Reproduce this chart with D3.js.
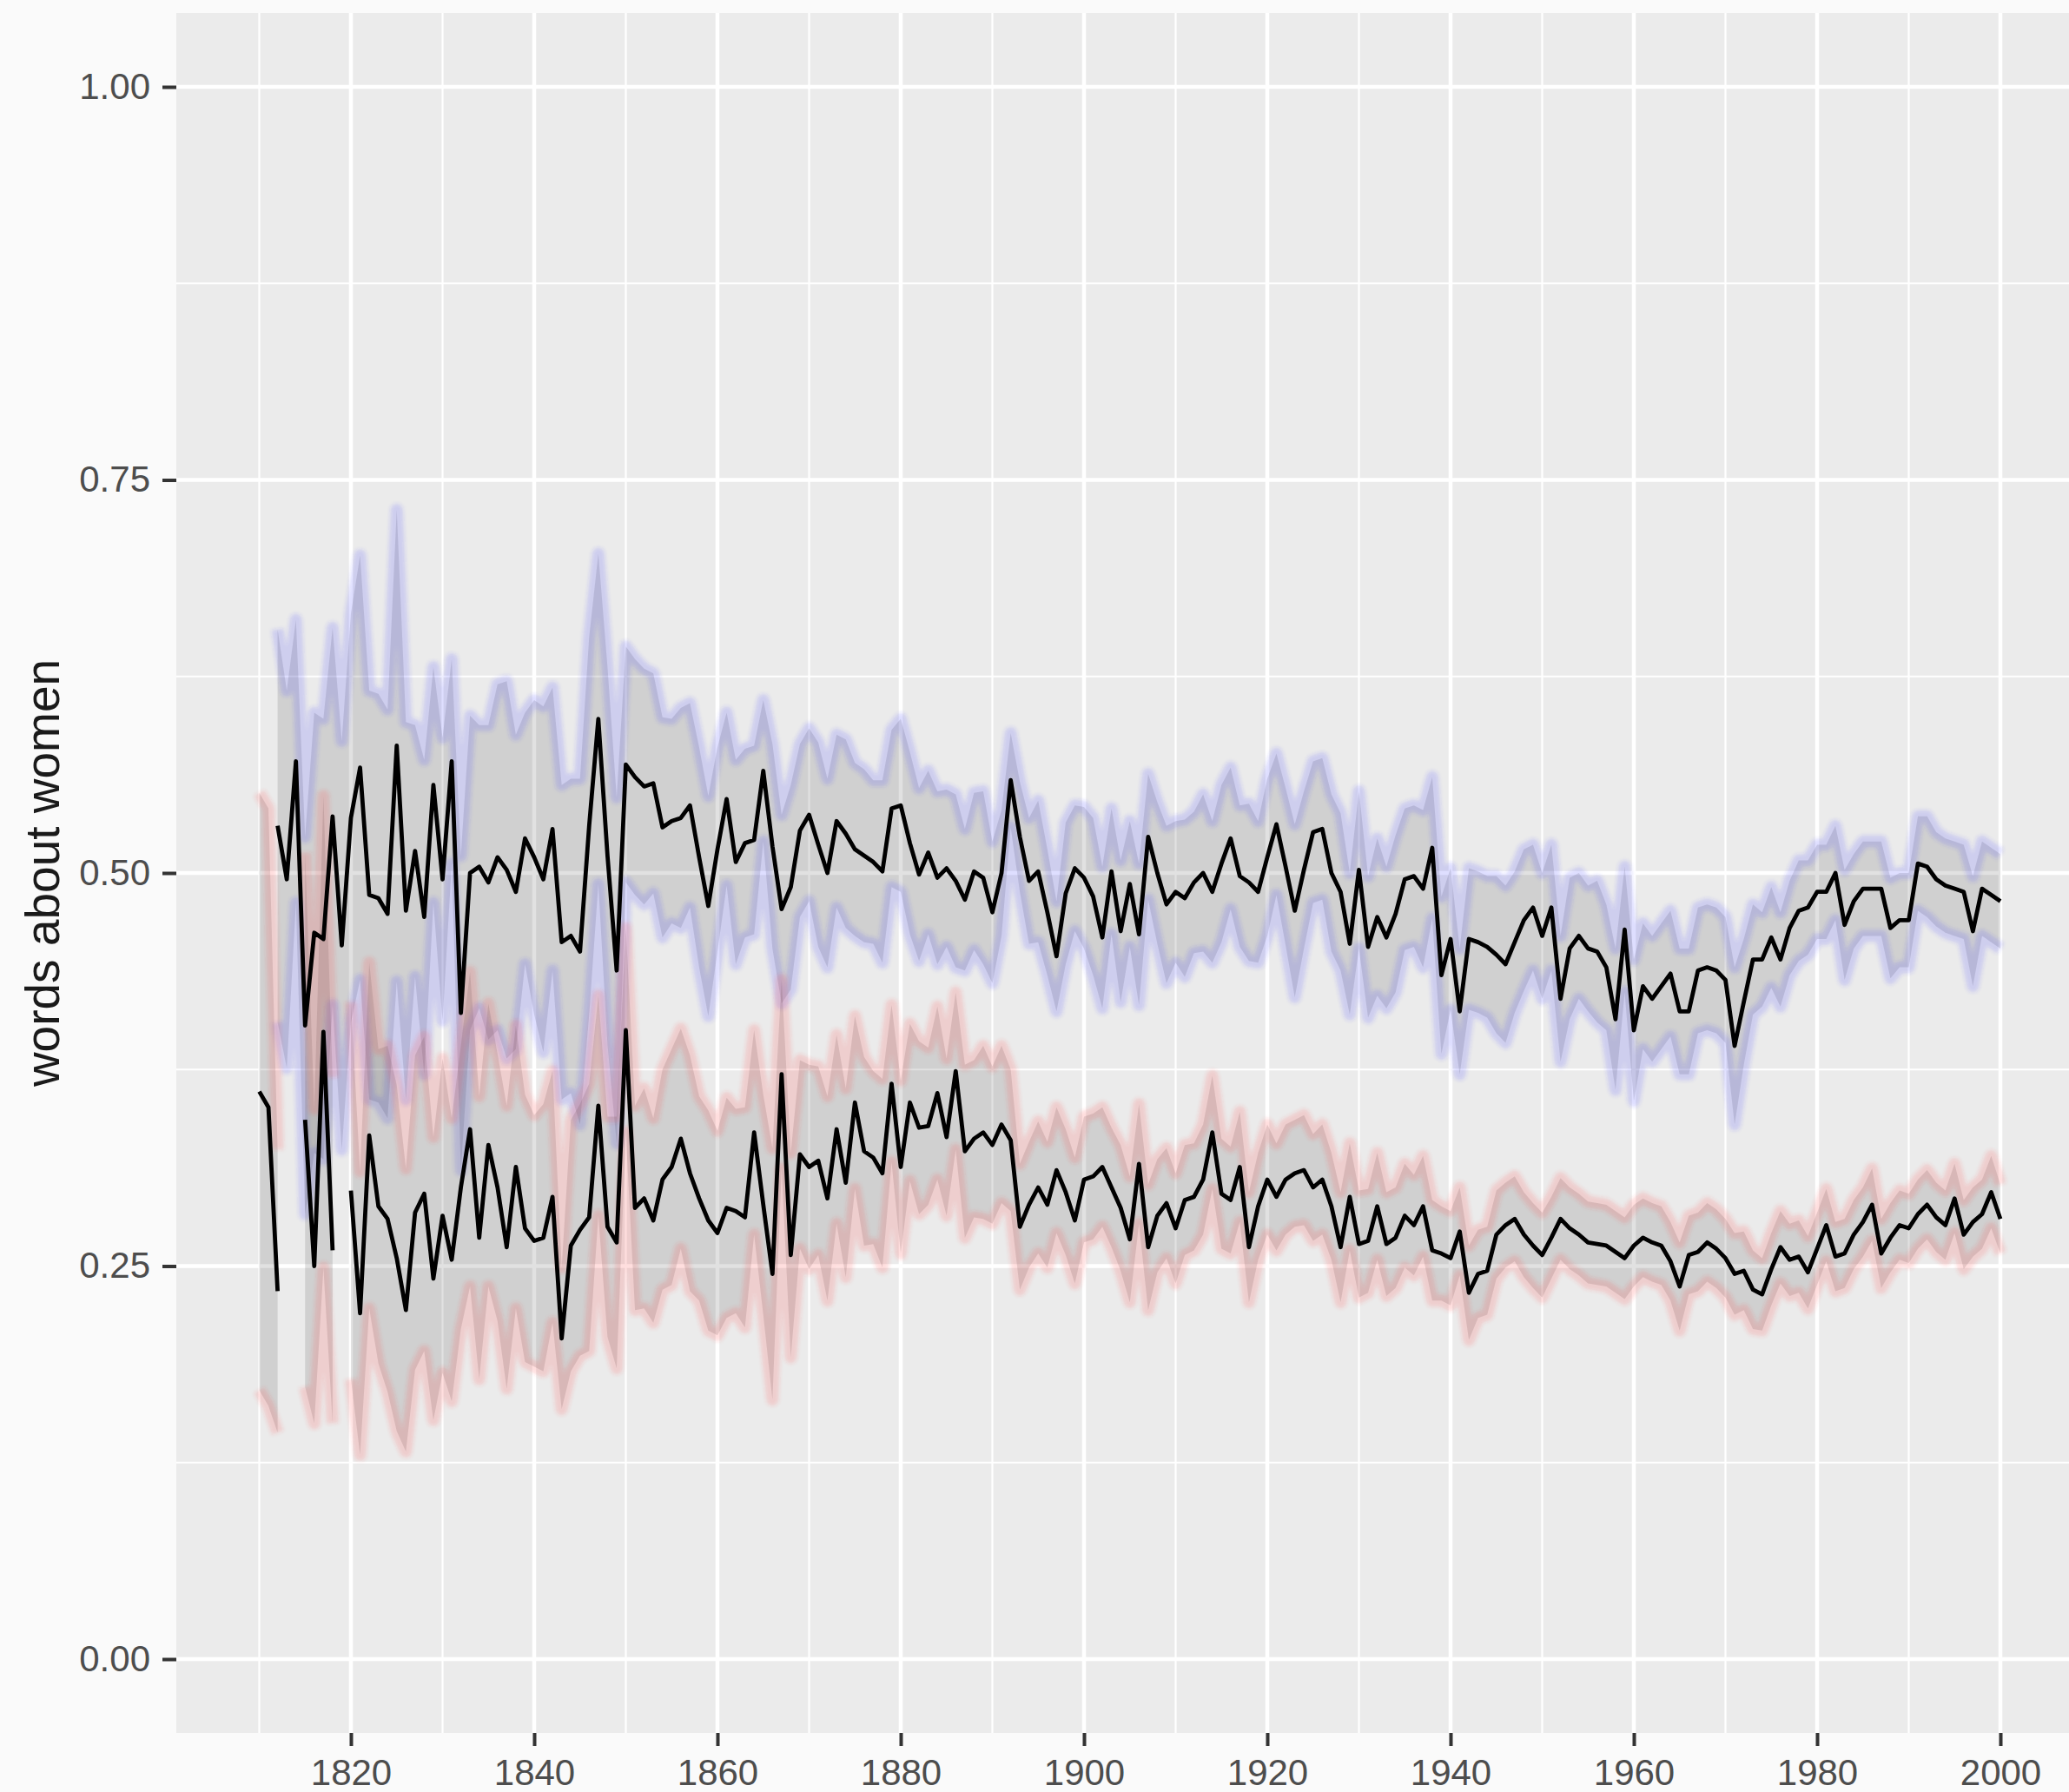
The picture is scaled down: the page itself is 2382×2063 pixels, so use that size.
<!DOCTYPE html>
<html>
<head>
<meta charset="utf-8">
<script src="https://cdn.jsdelivr.net/npm/d3@7"></script>
<style>
    body { margin: 0; background: #fafafa; }
    svg { display: block; font-family: "Liberation Sans", Arial, sans-serif; }
</style>
</head>
<body>
<svg></svg>
<script>
const
    firstYear = 1810,
    lastYear = 2000,
    years = d3.range(firstYear, lastYear + 1)

const xTicks = [1820, 1840, 1860, 1880, 1900, 1920, 1940, 1960, 1980, 2000]
const xMinor = [1810, 1830, 1850, 1870, 1890, 1910, 1930, 1950, 1970, 1990]
const yTicks = [0, 0.25, 0.5, 0.75, 1]
const yMinor = [0.125, 0.375, 0.625, 0.875]

const yTitle = "words about women"

// one row per decade, 1810 to 1999, then 2000
const upperMean = [
    null, null, 0.530, 0.496, 0.571, 0.403, 0.462, 0.458, 0.536, 0.454,
    0.535, 0.567, 0.486, 0.484, 0.474, 0.581, 0.476, 0.514, 0.472, 0.556,
    0.496, 0.571, 0.411, 0.500, 0.504, 0.494, 0.510, 0.502, 0.488, 0.522,
    0.510, 0.496, 0.528, 0.456, 0.460, 0.450, 0.530, 0.598, 0.511, 0.438,
    0.569, 0.561, 0.555, 0.557, 0.529, 0.533, 0.535, 0.543, 0.510, 0.479,
    0.515, 0.547, 0.507, 0.519, 0.521, 0.565, 0.517, 0.477, 0.491, 0.527,
    0.537, 0.518, 0.500, 0.533, 0.525, 0.515, 0.511, 0.507, 0.501, 0.541,
    0.543, 0.519, 0.499, 0.513, 0.497, 0.503, 0.495, 0.483, 0.501, 0.497,
    0.475, 0.500, 0.559, 0.523, 0.495, 0.501, 0.475, 0.447, 0.487, 0.503,
    0.497, 0.485, 0.459, 0.501, 0.463, 0.493, 0.461, 0.523, 0.500, 0.480,
    0.488, 0.484, 0.494, 0.500, 0.488, 0.506, 0.522, 0.498, 0.494, 0.488,
    0.510, 0.531, 0.504, 0.476, 0.502, 0.526, 0.528, 0.500, 0.488, 0.455,
    0.502, 0.453, 0.472, 0.459, 0.474, 0.496, 0.498, 0.490, 0.516, 0.435,
    0.458, 0.412, 0.458, 0.456, 0.453, 0.448, 0.442, 0.456, 0.470, 0.478,
    0.460, 0.478, 0.420, 0.452, 0.460, 0.452, 0.450, 0.440, 0.407, 0.464,
    0.400, 0.428, 0.420, 0.428, 0.436, 0.412, 0.412, 0.438, 0.440, 0.438,
    0.432, 0.390, 0.418, 0.445, 0.445, 0.459, 0.445, 0.465, 0.476, 0.478,
    0.488, 0.488, 0.500, 0.467, 0.482, 0.490, 0.490, 0.490, 0.465, 0.470,
    0.470, 0.506, 0.504, 0.496, 0.492, 0.490, 0.488, 0.463, 0.490, 0.486,
    0.482
]

const upperBand = [
    null, null, 0.125, 0.12, 0.09, 0.12, 0.14, 0.14, 0.12, 0.13,
    0.13, 0.135, 0.13, 0.13, 0.13, 0.15, 0.12, 0.08, 0.10, 0.075,
    0.09, 0.065, 0.10, 0.10, 0.09, 0.10, 0.11, 0.12, 0.10, 0.08,
    0.10, 0.11, 0.09, 0.10, 0.10, 0.11, 0.12, 0.105, 0.12, 0.11,
    0.075, 0.075, 0.075, 0.07, 0.07, 0.065, 0.07, 0.065, 0.07, 0.07,
    0.065, 0.055, 0.065, 0.06, 0.06, 0.045, 0.065, 0.06, 0.065, 0.055,
    0.055, 0.065, 0.06, 0.055, 0.06, 0.055, 0.055, 0.052, 0.058, 0.05,
    0.055, 0.058, 0.055, 0.052, 0.055, 0.05, 0.055, 0.045, 0.05, 0.055,
    0.045, 0.04, 0.03, 0.035, 0.04, 0.045, 0.04, 0.035, 0.045, 0.04,
    0.045, 0.05, 0.045, 0.04, 0.045, 0.04, 0.045, 0.04, 0.045, 0.05,
    0.045, 0.05, 0.045, 0.05, 0.045, 0.05, 0.045, 0.045, 0.05, 0.045,
    0.05, 0.045, 0.05, 0.055, 0.05, 0.045, 0.045, 0.05, 0.05, 0.045,
    0.05, 0.045, 0.05, 0.045, 0.05, 0.045, 0.045, 0.05, 0.045, 0.05,
    0.045, 0.04, 0.045, 0.045, 0.045, 0.05, 0.05, 0.045, 0.045, 0.04,
    0.04, 0.04, 0.04, 0.045, 0.04, 0.04, 0.045, 0.04, 0.045, 0.04,
    0.045, 0.04, 0.04, 0.04, 0.04, 0.04, 0.04, 0.04, 0.04, 0.04,
    0.04, 0.05, 0.04, 0.035, 0.03, 0.032, 0.03, 0.03, 0.032, 0.03,
    0.03, 0.03, 0.03, 0.035, 0.03, 0.03, 0.03, 0.03, 0.032, 0.03,
    0.03, 0.03, 0.032, 0.03, 0.03, 0.03, 0.03, 0.035, 0.03, 0.03,
    0.03
]

const lowerMean = [
    0.361, 0.351, 0.234, null, null, 0.343, 0.250, 0.399, 0.260, null,
    0.298, 0.220, 0.333, 0.288, 0.280, 0.255, 0.222, 0.284, 0.296, 0.242,
    0.282, 0.254, 0.300, 0.337, 0.268, 0.327, 0.300, 0.262, 0.313, 0.274,
    0.266, 0.268, 0.294, 0.204, 0.263, 0.273, 0.281, 0.352, 0.275, 0.265,
    0.400, 0.287, 0.293, 0.279, 0.305, 0.313, 0.331, 0.309, 0.293, 0.279,
    0.271, 0.287, 0.285, 0.281, 0.335, 0.289, 0.245, 0.372, 0.257, 0.321,
    0.313, 0.317, 0.293, 0.337, 0.303, 0.354, 0.323, 0.319, 0.309, 0.366,
    0.313, 0.354, 0.338, 0.339, 0.360, 0.332, 0.374, 0.323, 0.331, 0.335,
    0.327, 0.340, 0.330, 0.275, 0.289, 0.300, 0.289, 0.311, 0.297, 0.279,
    0.305, 0.307, 0.313, 0.300, 0.287, 0.267, 0.315, 0.262, 0.282, 0.290,
    0.274, 0.292, 0.294, 0.305, 0.335, 0.296, 0.292, 0.313, 0.262, 0.288,
    0.305, 0.294, 0.305, 0.309, 0.311, 0.300, 0.305, 0.288, 0.262, 0.294,
    0.264, 0.266, 0.288, 0.264, 0.268, 0.282, 0.276, 0.288, 0.260, 0.258,
    0.255, 0.272, 0.233, 0.245, 0.247, 0.270, 0.276, 0.280, 0.270, 0.263,
    0.257, 0.268, 0.280, 0.274, 0.270, 0.265, 0.264, 0.263, 0.259, 0.255,
    0.263, 0.268, 0.265, 0.263, 0.253, 0.237, 0.257, 0.259, 0.265, 0.261,
    0.255, 0.245, 0.247, 0.235, 0.232, 0.248, 0.262, 0.254, 0.256, 0.246,
    0.261, 0.276, 0.256, 0.258, 0.270, 0.278, 0.289, 0.258, 0.268, 0.276,
    0.274, 0.283, 0.289, 0.281, 0.276, 0.293, 0.270, 0.278, 0.283, 0.297,
    0.280
]

const lowerBand = [
    0.19, 0.19, 0.09, null, null, 0.17, 0.10, 0.15, 0.11, null,
    0.12, 0.09, 0.11, 0.10, 0.11, 0.11, 0.09, 0.10, 0.10, 0.09,
    0.10, 0.09, 0.09, 0.10, 0.09, 0.09, 0.085, 0.09, 0.09, 0.085,
    0.08, 0.085, 0.08, 0.045, 0.08, 0.08, 0.085, 0.07, 0.07, 0.08,
    0.065, 0.065, 0.07, 0.065, 0.07, 0.075, 0.07, 0.075, 0.065, 0.07,
    0.065, 0.07, 0.065, 0.07, 0.065, 0.07, 0.08, 0.06, 0.065, 0.06,
    0.065, 0.06, 0.065, 0.06, 0.06, 0.055, 0.06, 0.055, 0.06, 0.05,
    0.055, 0.05, 0.055, 0.05, 0.055, 0.05, 0.05, 0.055, 0.05, 0.055,
    0.05, 0.05, 0.045, 0.04, 0.04, 0.042, 0.04, 0.04, 0.04, 0.04,
    0.04, 0.04, 0.038, 0.038, 0.04, 0.04, 0.038, 0.04, 0.036, 0.035,
    0.035, 0.035, 0.034, 0.035, 0.036, 0.035, 0.034, 0.035, 0.035, 0.034,
    0.035, 0.034, 0.035, 0.034, 0.035, 0.034, 0.035, 0.034, 0.035, 0.034,
    0.034, 0.033, 0.034, 0.033, 0.032, 0.033, 0.032, 0.032, 0.032, 0.03,
    0.03, 0.028, 0.03, 0.028, 0.028, 0.028, 0.027, 0.027, 0.027, 0.027,
    0.027, 0.026, 0.026, 0.026, 0.026, 0.026, 0.026, 0.026, 0.026, 0.026,
    0.026, 0.025, 0.025, 0.025, 0.025, 0.028, 0.025, 0.025, 0.025, 0.025,
    0.025, 0.026, 0.025, 0.025, 0.023, 0.023, 0.023, 0.023, 0.023, 0.023,
    0.023, 0.023, 0.022, 0.022, 0.022, 0.022, 0.023, 0.022, 0.022, 0.022,
    0.022, 0.022, 0.022, 0.022, 0.022, 0.022, 0.022, 0.022, 0.022, 0.023,
    0.022
]

const
    width = 2382,
    height = 2063,
    panel = { left: 203, top: 15, bottom: 1995 }

const x = d3.scaleLinear()
    .domain([1820, 2000])
    .range([404, 2303])

const y = d3.scaleLinear()
    .domain([0, 1])
    .range([1910, 100])

const svg = d3.select("svg")
    .attr("width", width)
    .attr("height", height)
    .attr("viewBox", [0, 0, width, height])

// soft edge for the ribbon outlines
svg.append("defs")
    .append("filter")
    .attr("id", "soft")
    .attr("x", "-5%").attr("y", "-20%")
    .attr("width", "110%").attr("height", "140%")
    .append("feGaussianBlur")
    .attr("stdDeviation", 2)

svg.append("rect")
    .attr("x", panel.left)
    .attr("y", panel.top)
    .attr("width", width - panel.left)
    .attr("height", panel.bottom - panel.top)
    .attr("fill", "#ebebeb")

const grid = svg.append("g").attr("stroke", "#fff")

grid.selectAll(".ymin").data(yMinor).join("line")
    .attr("x1", panel.left).attr("x2", width)
    .attr("y1", d => y(d)).attr("y2", d => y(d))
    .attr("stroke-width", 2.2)

grid.selectAll(".xmin").data(xMinor).join("line")
    .attr("x1", d => x(d)).attr("x2", d => x(d))
    .attr("y1", panel.top).attr("y2", panel.bottom)
    .attr("stroke-width", 2.2)

grid.selectAll(".ymaj").data(yTicks).join("line")
    .attr("x1", panel.left).attr("x2", width)
    .attr("y1", d => y(d)).attr("y2", d => y(d))
    .attr("stroke-width", 4.5)

grid.selectAll(".xmaj").data(xTicks).join("line")
    .attr("x1", d => x(d)).attr("x2", d => x(d))
    .attr("y1", panel.top).attr("y2", panel.bottom)
    .attr("stroke-width", 4.5)

const series = [
    { mean: upperMean, band: upperBand, colour: "#3a3aff" },
    { mean: lowerMean, band: lowerBand, colour: "#ff3a3a" }
].map(s => ({
    colour: s.colour,
    rows: years.map((year, i) => ({ year, mean: s.mean[i], band: s.band[i] }))
}))

const defined = d => d.mean !== null

const area = d3.area()
    .defined(defined)
    .x(d => x(d.year))
    .y0(d => y(d.mean - d.band))
    .y1(d => y(d.mean + d.band))

const edge = side => d3.line()
    .defined(defined)
    .x(d => x(d.year))
    .y(d => y(d.mean + side * d.band))

const line = d3.line()
    .defined(defined)
    .x(d => x(d.year))
    .y(d => y(d.mean))

series.forEach(s => {
    svg.append("path")
        .datum(s.rows)
        .attr("d", area)
        .attr("fill", "#333")
        .attr("fill-opacity", 0.15)

    const g = svg.append("g")
        .attr("fill", "none")
        .attr("stroke", s.colour)
        .attr("stroke-opacity", 0.17)
        .attr("stroke-width", 14)
        .attr("stroke-linejoin", "round")
        .attr("filter", "url(#soft)")

    g.append("path").datum(s.rows).attr("d", edge(1))
    g.append("path").datum(s.rows).attr("d", edge(-1))
})

series.forEach(s => {
    svg.append("path")
        .datum(s.rows)
        .attr("d", line)
        .attr("fill", "none")
        .attr("stroke", "#000")
        .attr("stroke-width", 4.8)
        .attr("stroke-linejoin", "round")
})

const styleAxis = g => {
    g.select(".domain").remove()
    g.selectAll(".tick line").attr("stroke", "#333").attr("stroke-width", 4)
    g.selectAll(".tick text")
        .attr("fill", "#4d4d4d")
        .attr("font-size", 42)
        .attr("font-family", "Liberation Sans, Arial, sans-serif")
}

svg.append("g")
    .attr("transform", `translate(${panel.left},0)`)
    .call(d3.axisLeft(y).tickValues(yTicks).tickFormat(d3.format(".2f")).tickSize(16).tickPadding(14))
    .call(styleAxis)

svg.append("g")
    .attr("transform", `translate(0,${panel.bottom})`)
    .call(d3.axisBottom(x).tickValues(xTicks).tickFormat(d3.format("d")).tickSize(15).tickPadding(15))
    .call(styleAxis)

svg.append("text")
    .attr("transform", `translate(68,${(panel.top + panel.bottom) / 2}) rotate(-90)`)
    .attr("text-anchor", "middle")
    .attr("font-size", 55)
    .attr("fill", "#1a1a1a")
    .text(yTitle)
</script>
</body>
</html>
